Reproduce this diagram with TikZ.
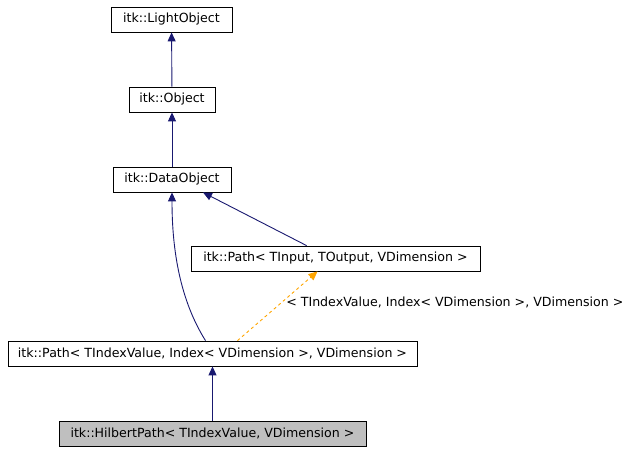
\documentclass[tikz,border=0pt]{standalone}
\usepackage{fontspec}
\setmainfont{DejaVu Sans}
\usetikzlibrary{arrows.meta}
\definecolor{edgeblue}{HTML}{191970}
\definecolor{tmplorange}{HTML}{FFA500}
\tikzset{
  cls/.style={draw=black, fill=white, line width=0.8pt, minimum height=25pt, inner sep=0pt, font=\fontsize{12.6}{14}\selectfont},
  inherit/.style={draw=edgeblue, line width=0.9pt, -{Triangle[length=9pt,width=8pt]}},
  tmpl/.style={draw=tmplorange, line width=0.9pt, dashed, -{Triangle[length=9pt,width=8pt,fill=tmplorange]}}
}
\begin{document}
\begin{tikzpicture}[x=1pt,y=-1pt]
        \useasboundingbox (0,0) rectangle (632,453);

        % classes
        \node[cls, minimum width=121pt] (light) at (171.5,19.5) {itk::LightObject};
        \node[cls, minimum width=86pt] (object) at (172,99.5) {itk::Object};
        \node[cls, minimum width=118pt] (data) at (172,179.5) {itk::DataObject};
        \node[cls, minimum width=289pt] (pathT) at (335.5,258.5) {itk::Path< TInput, TOutput, VDimension >};
        \node[cls, minimum width=409pt] (pathI) at (212.5,353.5) {itk::Path< TIndexValue, Index< VDimension >, VDimension >};
        \node[cls, minimum width=307pt, fill={rgb,255:red,191;green,191;blue,191}] (hilbert) at (212.5,433.5) {itk::HilbertPath< TIndexValue, VDimension >};

        % inheritance
        \draw[inherit] (object) -- (light);
        \draw[inherit] (data) -- (object);
        \draw[inherit] (pathT.north west) ++(116,0) coordinate (pT) (pT) -- ([xshift=31pt]data.south);
        \draw[inherit] ([xshift=-7pt]pathI.north) .. controls (180,300) and (172,250) .. (data.south);
        \draw[inherit] (hilbert) -- (pathI);

        % template instance
        \draw[tmpl] ([xshift=25pt]pathI.north) -- ([xshift=-18pt]pathT.south)
          node[pos=0.55, right=1pt, font=\fontsize{12.6}{14}\selectfont, text=black] (tlabel) {< TIndexValue, Index< VDimension >, VDimension >};
\end{tikzpicture}
\end{document}
